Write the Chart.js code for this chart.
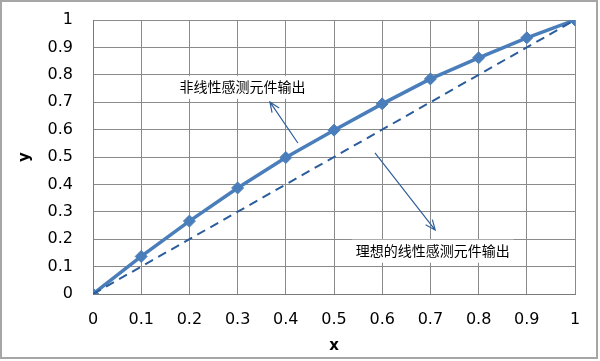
<!DOCTYPE html>
<html>
<head>
<meta charset="utf-8">
<script src="https://cdn.jsdelivr.net/npm/chart.js@4"></script>
<style>
  html, body { margin: 0; padding: 0; background: #fff; }
  #wrap { width: 600px; height: 361px; position: relative; }
</style>
</head>
<body>
<div id="wrap"><canvas id="myChart" width="600" height="361"></canvas></div>
<script>
// measured sensor output vs ideal linear output
const xValues = [0, 0.1, 0.2, 0.3, 0.4, 0.5, 0.6, 0.7, 0.8, 0.9, 1];
const sensorOutput = [0, 0.137, 0.266, 0.387, 0.498, 0.598, 0.694, 0.785, 0.862, 0.935, 1];
const idealX = [0, 1];
const idealY = [0, 1];
const xTicks = [0, 0.1, 0.2, 0.3, 0.4, 0.5, 0.6, 0.7, 0.8, 0.9, 1];
const yTicks = [0, 0.1, 0.2, 0.3, 0.4, 0.5, 0.6, 0.7, 0.8, 0.9, 1];
const xTitle = "x";
const yTitle = "y";

// callouts, in data units
const notes = [
  { text: "非线性感测元件输出", tx: 0.31, ty: 0.756, from: [0.425, 0.551], to: [0.367, 0.701] },
  { text: "理想的线性感测元件输出", tx: 0.705, ty: 0.158, from: [0.585, 0.515], to: [0.71, 0.233] },
];

const gridColor = "#8a8a8a";
const tickFont = { family: "DejaVu Sans", size: 16 };

const toPoints = (xs, ys) => xs.map((x, i) => ({ x: x, y: ys[i] }));

const calloutPlugin = {
  id: "callouts",
  beforeDatasetsDraw(chart) {
    const ctx = chart.ctx;
    const xs = chart.scales.x, ys = chart.scales.y;
    ctx.save();
    ctx.font = '14px "Noto Sans CJK SC"';
    ctx.textAlign = "center";
    ctx.textBaseline = "middle";
    notes.forEach((n) => {
      const cx = xs.getPixelForValue(n.tx);
      const cy = ys.getPixelForValue(n.ty);
      const w = ctx.measureText(n.text).width + 8;
      ctx.fillStyle = "#fff";
      ctx.fillRect(cx - w / 2, cy - 11, w, 23);
      ctx.fillStyle = "#000";
      ctx.fillText(n.text, cx, cy);

      // arrow
      const x1 = xs.getPixelForValue(n.from[0]), y1 = ys.getPixelForValue(n.from[1]);
      const x2 = xs.getPixelForValue(n.to[0]), y2 = ys.getPixelForValue(n.to[1]);
      const ang = Math.atan2(y2 - y1, x2 - x1);
      ctx.strokeStyle = "#2f5f9c";
      ctx.lineWidth = 1.2;
      ctx.beginPath();
      ctx.moveTo(x1, y1);
      ctx.lineTo(x2, y2);
      const hl = 11, ha = 0.4;
      ctx.moveTo(x2 - hl * Math.cos(ang - ha), y2 - hl * Math.sin(ang - ha));
      ctx.lineTo(x2, y2);
      ctx.lineTo(x2 - hl * Math.cos(ang + ha), y2 - hl * Math.sin(ang + ha));
      ctx.stroke();
    });
    ctx.restore();
  },
  afterDraw(chart) {
    // outer frame
    const ctx = chart.ctx;
    ctx.save();
    ctx.strokeStyle = "#a6a6a6";
    ctx.lineWidth = 2;
    ctx.strokeRect(1, 1, 596, 357);
    ctx.restore();
  },
};

new Chart(document.getElementById("myChart"), {
  type: "scatter",
  data: {
    datasets: [
      {
        label: "ideal",
        data: toPoints(idealX, idealY),
        showLine: true,
        borderColor: "#2b5d9b",
        borderWidth: 2,
        borderDash: [9, 6],
        pointRadius: 0,
        pointHoverRadius: 0,
      },
      {
        label: "sensor",
        data: toPoints(xValues, sensorOutput),
        showLine: true,
        borderColor: "#4a7ebb",
        backgroundColor: "#4a7ebb",
        borderWidth: 3.5,
        pointStyle: "rectRot",
        pointRadius: 6,
        pointBorderWidth: 1,
      },
    ],
  },
  options: {
    responsive: false,
    animation: false,
    layout: { padding: { top: 20, right: 25, left: 0, bottom: 0 } },
    plugins: { legend: { display: false }, tooltip: { enabled: false } },
    scales: {
      x: {
        type: "linear",
        min: 0,
        max: 1,
        afterBuildTicks: (s) => { s.ticks = xTicks.map((v) => ({ value: v })); },
        afterFit: (s) => { s.height = 67; },
        ticks: { color: "#000", font: tickFont, padding: 16, maxRotation: 0, callback: (v) => String(v) },
        grid: { color: gridColor, lineWidth: 1, drawTicks: false },
        border: { color: "#7a7a7a", width: 1 },
        title: { display: true, text: xTitle, color: "#000", font: { family: "DejaVu Sans", size: 15, weight: "bold" }, padding: { top: 0, bottom: 6 } },
      },
      y: {
        type: "linear",
        min: 0,
        max: 1,
        afterBuildTicks: (s) => { s.ticks = yTicks.map((v) => ({ value: v })); },
        afterFit: (s) => { s.width = 93; s.paddingTop = 0; s.paddingBottom = 0; },
        ticks: { color: "#000", font: tickFont, padding: 20, callback: (v) => String(v) },
        grid: { color: gridColor, lineWidth: 1, drawTicks: false },
        border: { color: "#7a7a7a", width: 1 },
        title: { display: true, text: yTitle, color: "#000", font: { family: "DejaVu Sans", size: 15, weight: "bold" }, padding: { top: 16, bottom: 0 } },
      },
    },
  },
  plugins: [calloutPlugin],
});
</script>
</body>
</html>
